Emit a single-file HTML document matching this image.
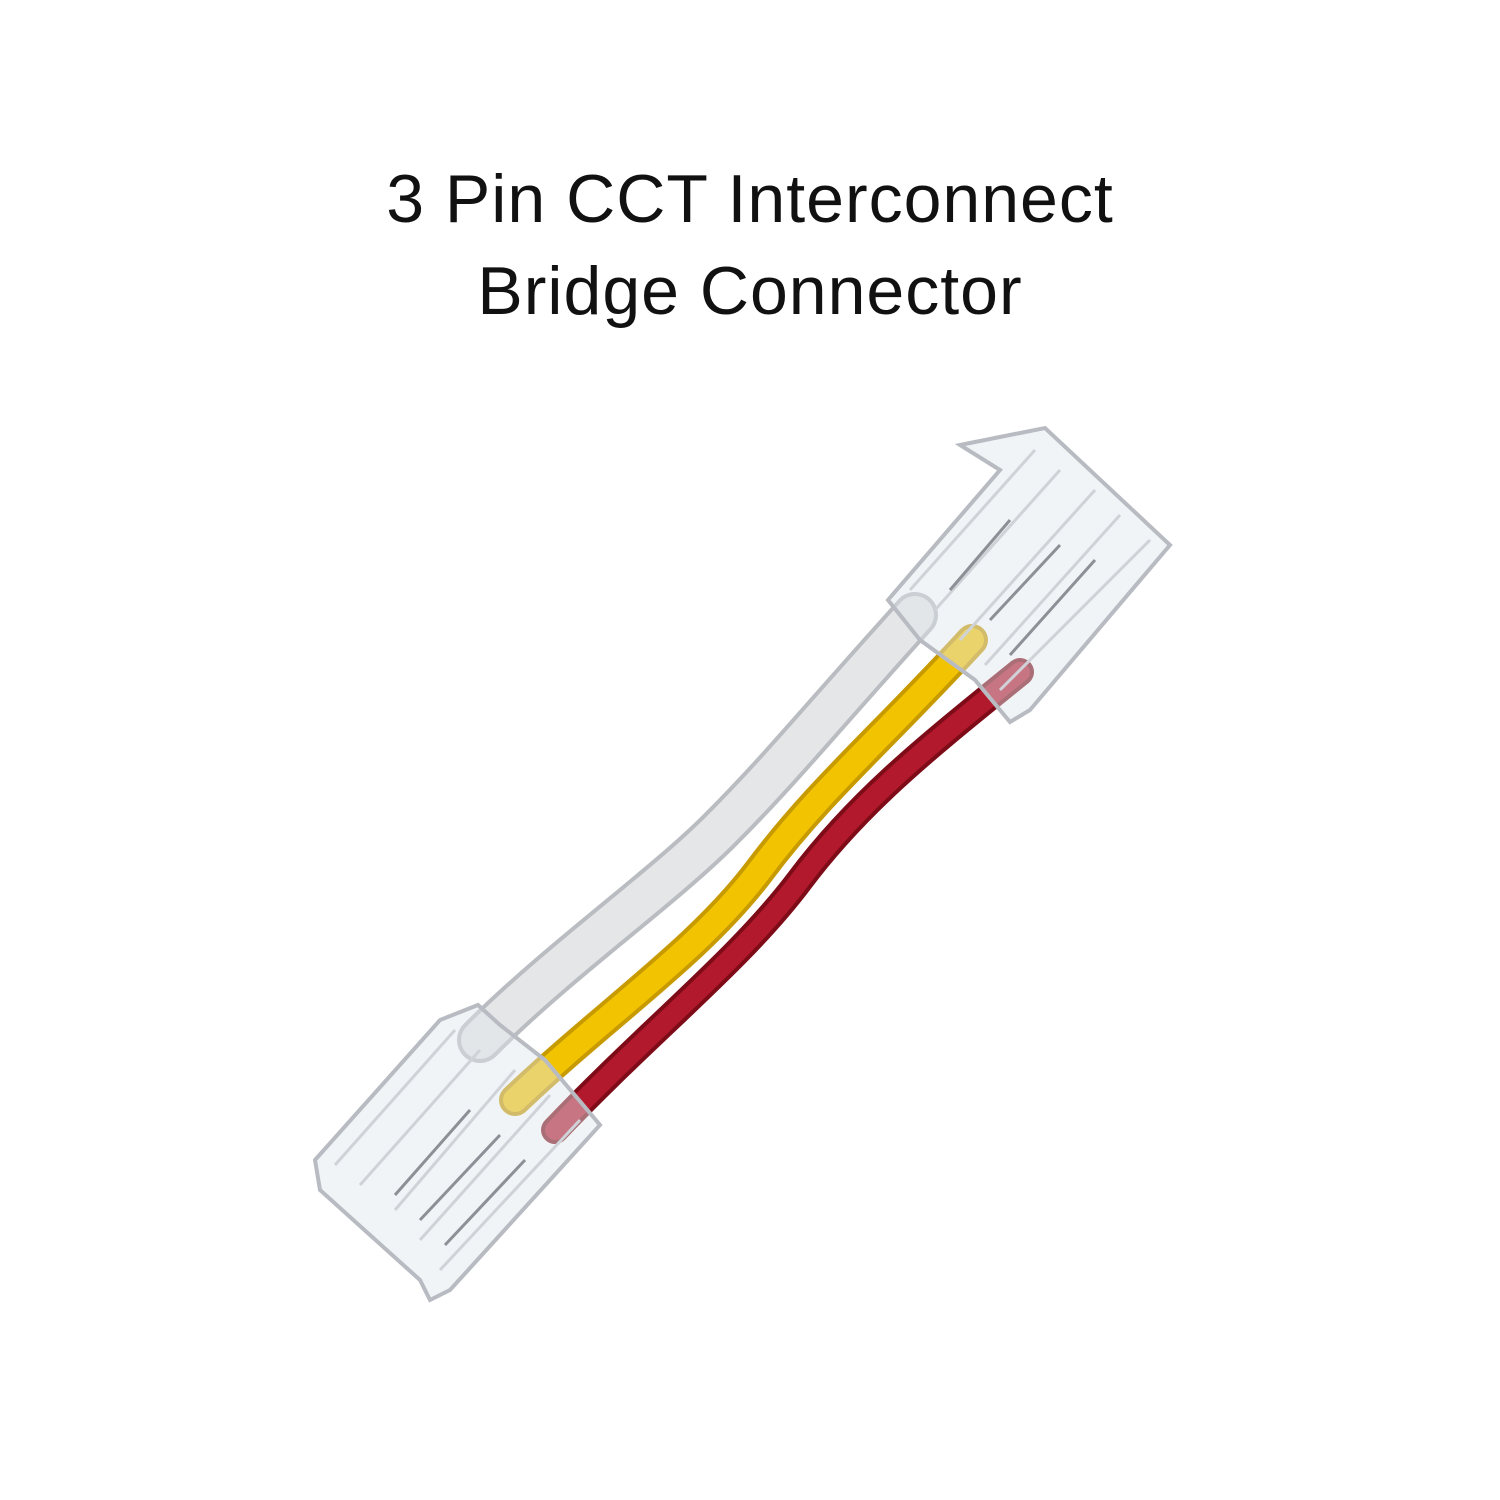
<!DOCTYPE html>
<html><head><meta charset="utf-8"><style>
html,body{margin:0;padding:0;background:#fff;}
.wrap{position:relative;width:1500px;height:1500px;overflow:hidden;}
.t{position:absolute;left:0;width:1500px;text-align:center;font-family:"Liberation Sans",sans-serif;font-size:68px;letter-spacing:1px;color:#111;}
svg{position:absolute;left:0;top:0;}
</style></head><body><div class="wrap">
<div class="t" style="top:160px">3 Pin CCT Interconnect</div>
<div class="t" style="top:252px">Bridge Connector</div>
<svg width="1500" height="1500" viewBox="0 0 1500 1500">
<g fill="none" stroke-linecap="round">
<path d="M915 615 C820 720 780 770 720 830 S560 960 480 1040" stroke="#b9bcc0" stroke-width="46"/>
<path d="M915 615 C820 720 780 770 720 830 S560 960 480 1040" stroke="#e4e6e8" stroke-width="38"/>
<path d="M972 640 C880 740 820 790 760 870 S610 1010 515 1100" stroke="#c79a00" stroke-width="32"/>
<path d="M972 640 C880 740 820 790 760 870 S610 1010 515 1100" stroke="#f2c300" stroke-width="24"/>
<path d="M1020 672 C930 745 860 800 800 880 S650 1030 555 1130" stroke="#7e0c18" stroke-width="28"/>
<path d="M1020 672 C930 745 860 800 800 880 S650 1030 555 1130" stroke="#b3192c" stroke-width="20"/>
</g>
<g stroke="#b8bcc2" stroke-width="4" fill="rgba(225,230,236,0.45)">
<polygon points="888,600 1000,470 960,445 1045,428 1170,545 1030,710 1010,722 975,680 920,640"/>
<path d="M910 590 L1035 450 M935 610 L1060 470 M960 640 L1095 490 M985 665 L1120 515 M1000 690 L1150 540" fill="none" stroke="#cfd3d8" stroke-width="3"/>
<path d="M950 590 L1010 520 M990 620 L1060 545 M1010 655 L1095 560" fill="none" stroke="#8d9096" stroke-width="3"/>
</g>
<g stroke="#b8bcc2" stroke-width="4" fill="rgba(225,230,236,0.45)">
<polygon points="315,1160 440,1020 478,1005 500,1025 545,1060 600,1125 450,1290 430,1300 420,1280 320,1190"/>
<path d="M335 1165 L455 1030 M360 1185 L480 1050 M395 1210 L515 1070 M420 1240 L550 1095 M440 1270 L580 1120" fill="none" stroke="#cfd3d8" stroke-width="3"/>
<path d="M395 1195 L470 1110 M420 1220 L500 1135 M445 1245 L525 1160" fill="none" stroke="#8d9096" stroke-width="3"/>
</g>
</svg>
</div></body></html>
